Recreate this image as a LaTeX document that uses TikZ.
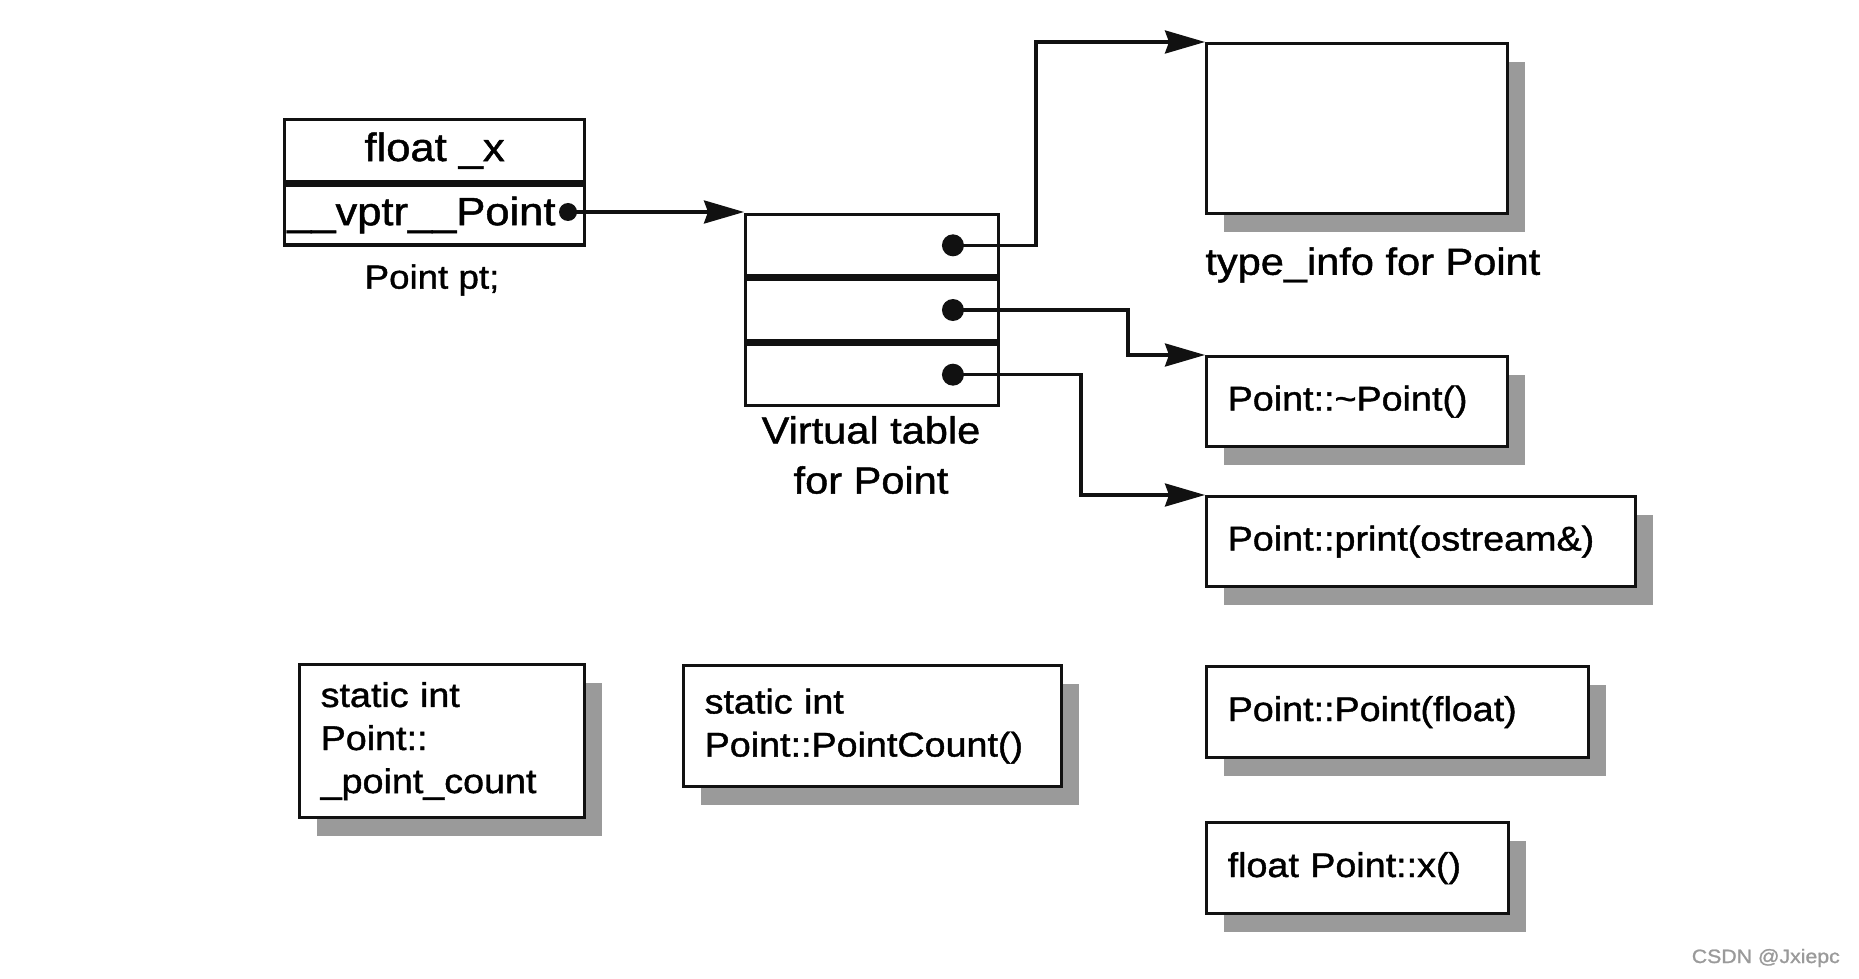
\documentclass[tikz,border=0pt]{standalone}
\usepackage{fontspec}
\setmainfont{Liberation Sans}[FakeStretch=1.1, FakeBold=1.2]
\usepackage{tikz}
\usetikzlibrary{arrows.meta,positioning,calc,shadows}
\usepackage{xcolor}
\definecolor{vtInk}{HTML}{111111}
\definecolor{vtShade}{HTML}{9A9A9A}
\definecolor{vtMark}{HTML}{9A9A9A}
\tikzset{
  cell/.style={draw=vtInk, line width=1.9pt, fill=white, minimum width=6cm, anchor=north west, inner sep=0pt, font=\fontsize{22.5}{27}\selectfont},
  slot/.style={draw=vtInk, line width=1.9pt, minimum width=5.06cm, minimum height=1.227cm, anchor=north west, inner sep=0pt},
  fnbox/.style={draw=vtInk, line width=1.9pt, fill=white, anchor=north west, inner xsep=0.42cm, inner ysep=0pt, align=left, font=\fontsize{19.5}{24.5}\selectfont, drop shadow={shadow xshift=0.34cm, shadow yshift=-0.36cm, fill=vtShade, opacity=1, draw=none}},
  lbl/.style={inner sep=0pt, font=\fontsize{21.5}{28.5}\selectfont},
  ptr/.style={circle, fill=vtInk, inner sep=0pt, minimum size=0.44cm},
  sep/.style={draw=vtInk, line width=2.8pt},
  arr/.style={-{Stealth[length=0.8cm, width=0.46cm, inset=0.08cm]}, line width=1.9pt, draw=vtInk},
}

\begin{document}
\begin{tikzpicture}[x=0.02cm, y=-0.02cm]
  \useasboundingbox (0,0) rectangle (1859,979);
  % the object pt
  \node[cell, minimum height=1.24cm] (fx) at (283,118) {float \_x};
  \node[cell, minimum height=1.2cm, text width=5.9cm, inner xsep=0.05cm, align=left] (vptr) at (fx.south west) {\_\_vptr\_\_Point};
  \draw[sep] (vptr.north west) -- (vptr.north east);
  \node[ptr, minimum size=0.36cm] (vdot) at (568,212) {};
  \node[lbl, font=\fontsize{19}{23}\selectfont] (pt) at (432,280) {Point pt;};
  % virtual table
  \node[slot] (vt1) at (744,213) {};
  \node[slot] (vt2) at (vt1.south west) {};
  \node[slot] (vt3) at (vt2.south west) {};
  \draw[sep] (vt1.south west) -- (vt1.south east);
  \draw[sep] (vt2.south west) -- (vt2.south east);
  \node[ptr, left=0.72cm of vt1.east] (d1) {};
  \node[ptr, left=0.72cm of vt2.east] (d2) {};
  \node[ptr, left=0.72cm of vt3.east] (d3) {};
  \node[lbl, align=center] (vtl) at (871,455) {Virtual table\\for Point};
  % what the slots point to
  \node[fnbox, minimum width=6.02cm, minimum height=3.4cm] (ti) at (1205,42) {};
  \node[lbl, anchor=west] (til) at (1205,265) {type\_info for Point};
  \node[fnbox, text width=5.18cm, minimum height=1.8cm] (dt) at (1205,355) {Point::\textasciitilde Point()};
  \node[fnbox, text width=7.74cm, minimum height=1.8cm] (pr) at (1205,495) {Point::print(ostream\&)};
  % members outside the object
  \node[fnbox, text width=6.80cm, minimum height=1.82cm] (ct) at (1205,665) {Point::Point(float)};
  \node[fnbox, text width=5.20cm, minimum height=1.82cm] (xf) at (1205,821) {float Point::x()};
  \node[fnbox, text width=4.86cm, minimum height=3.06cm] (cnt) at (298,663) {static int\\Point::\\\_point\_count};
  \node[fnbox, text width=6.72cm, minimum height=2.42cm] (pc) at (682,664) {static int\\Point::PointCount()};
  % pointers
  \draw[arr] (vdot.center) -- (vdot -| vt1.west);
  \draw[arr] (d1.center) -- ++(83,0) |- (ti.north west);
  \draw[arr] (d2.center) -- ++(175,0) |- (dt.north west);
  \draw[arr] (d3.center) -- ++(128,0) |- (pr.north west);
  \node[font=\fontsize{11}{13}\selectfont, text=vtMark, anchor=east] (wm) at (1846,958) {CSDN @Jxiepc};
\end{tikzpicture}
\end{document}
